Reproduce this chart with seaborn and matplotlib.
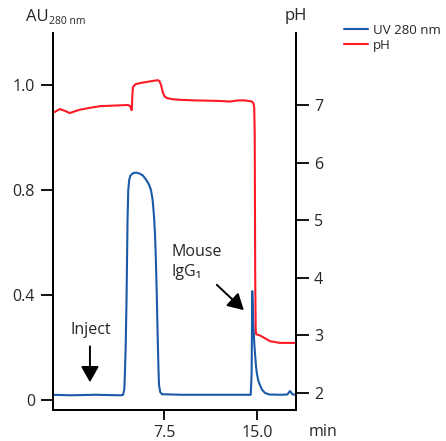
import matplotlib
matplotlib.use("Agg")
import matplotlib.pyplot as plt
from matplotlib.lines import Line2D
import seaborn as sns

# UV 280 nm trace (time in min, absorbance)
uv_time = [-1.45, 0.0, 2.0, 4.0, 4.2, 4.3, 4.35, 4.42, 4.48, 4.56, 4.62, 4.7, 4.8, 4.95,
           5.08, 5.3, 5.56, 5.8, 6.05, 6.3, 6.45, 6.58, 6.69, 6.78, 6.85, 6.92, 6.98,
           7.05, 7.1, 7.2, 7.34, 9.0, 12.0, 14.5, 14.57, 14.62, 14.7, 14.78, 14.84, 14.92,
           15.0, 15.1, 15.24, 15.4, 15.65, 16.0, 17.0, 17.45, 17.6, 17.66, 17.75, 17.85, 18.15]
uv_abs = [0.02, 0.018, 0.02, 0.018, 0.02, 0.04, 0.10, 0.22, 0.38, 0.68, 0.80, 0.84, 0.855, 0.862,
          0.865, 0.866, 0.862, 0.855, 0.84, 0.82, 0.80, 0.765, 0.705, 0.63, 0.53, 0.40, 0.27,
          0.13, 0.057, 0.03, 0.022, 0.02, 0.02, 0.02, 0.10, 0.415, 0.30, 0.22, 0.18, 0.13,
          0.10, 0.075, 0.057, 0.04, 0.027, 0.021, 0.02, 0.021, 0.03, 0.034, 0.03, 0.022, 0.02]

# pH trace
ph_time = [-1.45, -1.3, -0.9, -0.5, -0.1, 0.3, 0.75, 1.5, 2.35, 3.5, 4.6, 4.78, 4.9,
           4.95, 5.0, 5.2, 5.56, 6.37, 6.8, 7.02, 7.15, 7.26, 7.42, 7.55, 7.74, 8.2, 8.8,
           10.0, 12.0, 12.8, 13.5, 14.03, 14.6, 14.72, 14.78, 14.82, 14.86, 14.9, 14.94,
           15.24, 15.65, 16.05, 16.85, 18.15]
ph_val = [6.87, 6.88, 6.93, 6.9, 6.86, 6.89, 6.92, 6.95, 6.98, 6.99, 7.0, 6.98, 6.91,
          7.15, 7.31, 7.36, 7.38, 7.41, 7.425, 7.43, 7.41, 7.35, 7.21, 7.15, 7.12, 7.1, 7.09,
          7.08, 7.07, 7.06, 7.08, 7.08, 7.06, 7.03, 6.95, 6.5, 4.0, 3.1, 3.02, 3.0, 2.95,
          2.9, 2.87, 2.87]

au_ticks = [0, 0.4, 0.8, 1.2]
au_labels = ["0", "0.4", "0.8", "1.0"]
ph_ticks = [2, 3, 4, 5, 6, 7]
time_ticks = [7.5, 15.0]

uv_color = "#1a5aa8"
ph_color = "#ff1a26"

sns.set_style("ticks")
plt.rcParams["font.family"] = ["Open Sans", "DejaVu Sans"]

fig = plt.figure(figsize=(4.46, 4.41), dpi=100)
ax = fig.add_axes([53 / 446, 31 / 441, 243 / 446, 377 / 441])
ax2 = ax.twinx()

sns.lineplot(x=uv_time, y=uv_abs, ax=ax, color=uv_color, lw=1.5, estimator=None)
sns.lineplot(x=ph_time, y=ph_val, ax=ax2, color=ph_color, lw=1.5, estimator=None)

ax.set_xlim(-1.45, 18.15)
ax.set_ylim(-0.038, 1.398)
ax2.set_ylim(1.705, 8.25)

ax.set_xticks(time_ticks)
ax.set_xticklabels(["7.5", "15.0"])
ax.set_yticks(au_ticks)
ax.set_yticklabels(au_labels)
ax2.set_yticks(ph_ticks)

for a in (ax, ax2):
    a.spines["top"].set_visible(False)
    for s in a.spines.values():
        s.set_linewidth(1.3)
        s.set_color("black")
    a.tick_params(axis="both", length=9, width=1.3, labelsize=11.5, pad=4, color="black")
ax.tick_params(axis="x", length=7)

# axis titles placed like the original
fig.text(26 / 446, 1 - 17 / 441, "AU", fontsize=12, ha="left", va="center")
fig.text(49 / 446, 1 - 21 / 441, "280 nm", fontsize=7.5, ha="left", va="center")
fig.text(296 / 446, 1 - 16 / 441, "pH", fontsize=12, ha="center", va="center")
fig.text(309 / 446, 1 - 432 / 441, "min", fontsize=11.5, ha="left", va="center")

# annotations
ax.annotate("", xy=(1.53, 0.057), xytext=(1.53, 0.215),
            arrowprops=dict(arrowstyle="-|>,head_length=0.8,head_width=0.45",
                            color="black", lw=1.4, mutation_scale=12))
ax.text(1.6, 0.267, "Inject", fontsize=11.5, ha="center", va="center")

ax.annotate("", xy=(14.11, 0.335), xytext=(11.6, 0.446),
            arrowprops=dict(arrowstyle="-|>,head_length=0.8,head_width=0.45",
                            color="black", lw=1.4, mutation_scale=12))
ax.text(8.1, 0.564, "Mouse", fontsize=11.5, ha="left", va="center")
ax.text(8.1, 0.488, "IgG\u2081", fontsize=11.5, ha="left", va="center")

handles = [Line2D([], [], color=uv_color, lw=1.5), Line2D([], [], color=ph_color, lw=1.5)]
fig.legend(handles, ["UV 280 nm", "pH"], loc="upper left", bbox_to_anchor=(344 / 446, 1 - 24 / 441),
           frameon=False, fontsize=9.5, handlelength=1.8, handletextpad=0.4,
           borderpad=0, borderaxespad=0, labelspacing=0.15)

fig.savefig("out.png", dpi=100)
